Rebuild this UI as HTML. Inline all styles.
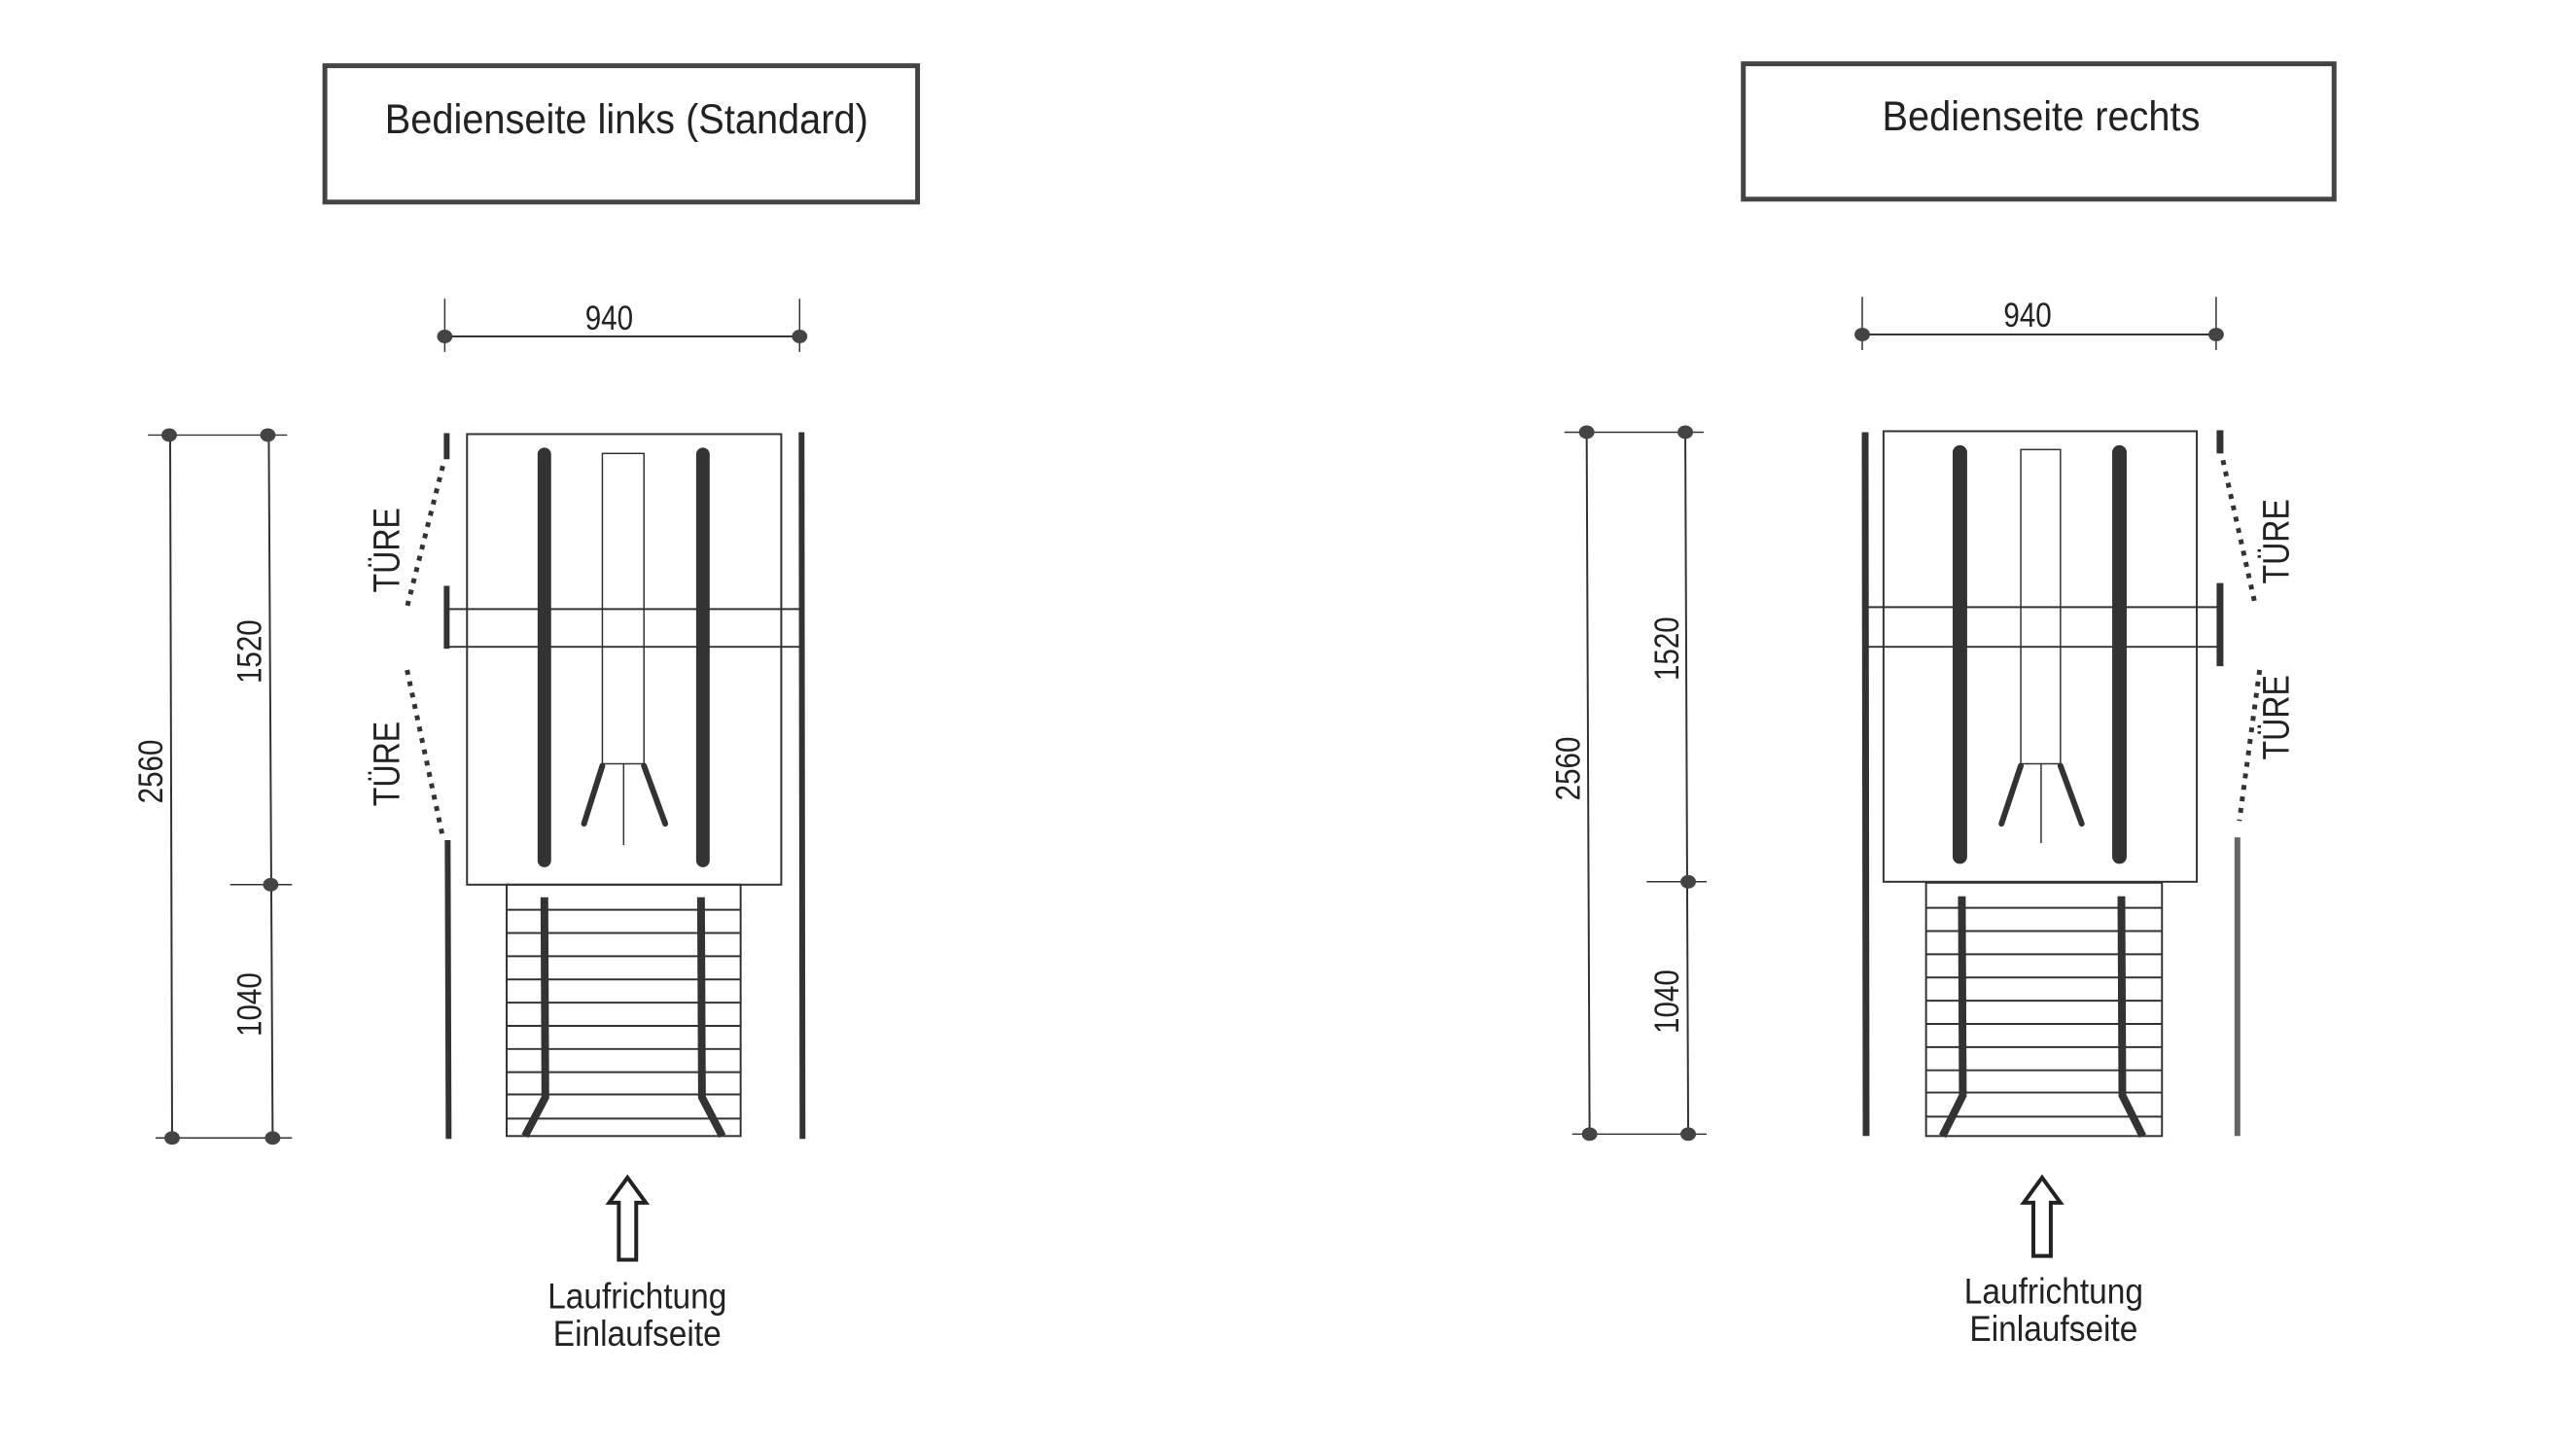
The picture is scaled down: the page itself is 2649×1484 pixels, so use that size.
<!DOCTYPE html>
<html><head><meta charset="utf-8"><style>
html,body{margin:0;padding:0;background:#fff;}
svg{display:block;}
text{font-family:"Liberation Sans",sans-serif;fill:#222;}
</style></head><body>
<svg width="2649" height="1484" viewBox="0 0 2649 1484" xmlns="http://www.w3.org/2000/svg">
<g transform="scale(0.9943)">
<g stroke="#333" fill="none">
<!-- ===== LEFT ===== -->
<rect x="336" y="68" width="613" height="141" stroke-width="5" stroke="#444"/>
<line x1="460" y1="348" x2="827" y2="348" stroke-width="2"/>
<line x1="460" y1="309" x2="460" y2="364" stroke-width="1.5"/>
<line x1="827" y1="309" x2="827" y2="364" stroke-width="1.5"/>
<line x1="176" y1="450" x2="178" y2="1177" stroke-width="2"/>
<line x1="278" y1="450" x2="282" y2="1177" stroke-width="2"/>
<line x1="153" y1="450" x2="297" y2="450" stroke-width="1.5"/>
<line x1="238" y1="915" x2="302" y2="915" stroke-width="1.5"/>
<line x1="161" y1="1177" x2="302" y2="1177" stroke-width="1.5"/>
<line x1="462" y1="448" x2="462" y2="475" stroke-width="6"/>
<line x1="458" y1="482" x2="421" y2="628" stroke-width="5" stroke-dasharray="5 7"/>
<line x1="462" y1="606" x2="462" y2="671" stroke-width="6"/>
<line x1="421" y1="693" x2="458" y2="866" stroke-width="5" stroke-dasharray="5 7"/>
<line x1="463" y1="869" x2="464" y2="1178" stroke-width="6"/>
<rect x="483" y="449" width="325" height="466" stroke-width="2"/>
<line x1="829" y1="447" x2="830" y2="1178" stroke-width="6"/>
<line x1="462" y1="630" x2="828" y2="630" stroke-width="2"/>
<line x1="462" y1="669" x2="828" y2="669" stroke-width="2"/>
<line x1="563" y1="470" x2="563" y2="890" stroke-width="14" stroke-linecap="round"/>
<line x1="727" y1="470" x2="727" y2="890" stroke-width="14" stroke-linecap="round"/>
<rect x="623" y="469" width="43" height="321" stroke-width="1.5"/>
<line x1="623" y1="792" x2="604" y2="852" stroke-width="6" stroke-linecap="round"/>
<line x1="666" y1="792" x2="688" y2="852" stroke-width="6" stroke-linecap="round"/>
<line x1="645" y1="790" x2="645" y2="874" stroke-width="1.5"/>
<rect x="524" y="915" width="242" height="260" stroke-width="2"/>
<g stroke-width="2">
<line x1="524" y1="941" x2="766" y2="941"/><line x1="524" y1="965" x2="766" y2="965"/>
<line x1="524" y1="989" x2="766" y2="989"/><line x1="524" y1="1013" x2="766" y2="1013"/>
<line x1="524" y1="1037" x2="766" y2="1037"/><line x1="524" y1="1061" x2="766" y2="1061"/>
<line x1="524" y1="1085" x2="766" y2="1085"/><line x1="524" y1="1109" x2="766" y2="1109"/>
<line x1="524" y1="1132" x2="766" y2="1132"/><line x1="524" y1="1157" x2="766" y2="1157"/>
</g>
<polyline points="563,928 564,1135 543,1175" stroke-width="8"/>
<polyline points="725,928 726,1135 747,1175" stroke-width="8"/>
<polygon points="649,1218 668,1244 658,1244 658,1303 640,1303 640,1244 630,1244" stroke-width="4" stroke="#222"/>

<!-- ===== RIGHT ===== -->
<rect x="1803" y="66" width="611" height="140" stroke-width="5" stroke="#444"/>
<line x1="1926" y1="346" x2="2292" y2="346" stroke-width="2"/>
<line x1="1926" y1="307" x2="1926" y2="362" stroke-width="1.5"/>
<line x1="2292" y1="307" x2="2292" y2="362" stroke-width="1.5"/>
<line x1="1641" y1="447" x2="1644" y2="1173" stroke-width="2"/>
<line x1="1743" y1="447" x2="1746" y2="1173" stroke-width="2"/>
<line x1="1618" y1="447" x2="1762" y2="447" stroke-width="1.5"/>
<line x1="1703" y1="912" x2="1765" y2="912" stroke-width="1.5"/>
<line x1="1626" y1="1173" x2="1765" y2="1173" stroke-width="1.5"/>
<line x1="1929" y1="447" x2="1930" y2="1175" stroke-width="7"/>
<rect x="1948" y="446" width="324" height="466" stroke-width="2"/>
<line x1="1930" y1="628" x2="2296" y2="628" stroke-width="2"/>
<line x1="1930" y1="669" x2="2296" y2="669" stroke-width="2"/>
<line x1="2296" y1="603" x2="2296" y2="689" stroke-width="7"/>
<line x1="2296" y1="445" x2="2296" y2="469" stroke-width="7"/>
<line x1="2299" y1="476" x2="2333" y2="628" stroke-width="5" stroke-dasharray="5 7"/>
<line x1="2337" y1="693" x2="2316" y2="849" stroke-width="5" stroke-dasharray="5 7"/>
<line x1="2314" y1="866" x2="2314" y2="1175" stroke-width="6" stroke="#666"/>
<line x1="2027" y1="468" x2="2027" y2="886" stroke-width="15" stroke-linecap="round"/>
<line x1="2192" y1="468" x2="2192" y2="886" stroke-width="15" stroke-linecap="round"/>
<rect x="2090" y="465" width="41" height="325" stroke-width="1.5"/>
<line x1="2090" y1="792" x2="2070" y2="852" stroke-width="6" stroke-linecap="round"/>
<line x1="2131" y1="792" x2="2153" y2="852" stroke-width="6" stroke-linecap="round"/>
<line x1="2111" y1="790" x2="2111" y2="872" stroke-width="1.5"/>
<rect x="1992" y="913" width="244" height="262" stroke-width="2"/>
<g stroke-width="2">
<line x1="1992" y1="939" x2="2236" y2="939"/><line x1="1992" y1="963" x2="2236" y2="963"/>
<line x1="1992" y1="987" x2="2236" y2="987"/><line x1="1992" y1="1011" x2="2236" y2="1011"/>
<line x1="1992" y1="1035" x2="2236" y2="1035"/><line x1="1992" y1="1059" x2="2236" y2="1059"/>
<line x1="1992" y1="1083" x2="2236" y2="1083"/><line x1="1992" y1="1107" x2="2236" y2="1107"/>
<line x1="1992" y1="1130" x2="2236" y2="1130"/><line x1="1992" y1="1155" x2="2236" y2="1155"/>
</g>
<polyline points="2029,927 2030,1133 2009,1175" stroke-width="8"/>
<polyline points="2194,927 2195,1133 2216,1175" stroke-width="8"/>
<polygon points="2112,1218 2131,1244 2121,1244 2121,1299 2103,1299 2103,1244 2093,1244" stroke-width="4" stroke="#222"/>
</g>
<g fill="#444">
<ellipse cx="460" cy="348" rx="8" ry="7"/><ellipse cx="827" cy="348" rx="8" ry="7"/>
<ellipse cx="175" cy="450" rx="8" ry="7"/><ellipse cx="277" cy="450" rx="8" ry="7"/>
<ellipse cx="280" cy="915" rx="8" ry="7"/>
<ellipse cx="178" cy="1177" rx="8" ry="7"/><ellipse cx="282" cy="1177" rx="8" ry="7"/>
<ellipse cx="1926" cy="346" rx="8" ry="7"/><ellipse cx="2292" cy="346" rx="8" ry="7"/>
<ellipse cx="1641" cy="447" rx="8" ry="7"/><ellipse cx="1743" cy="447" rx="8" ry="7"/>
<ellipse cx="1746" cy="912" rx="8" ry="7"/>
<ellipse cx="1644" cy="1173" rx="8" ry="7"/><ellipse cx="1746" cy="1173" rx="8" ry="7"/>
</g>
<g font-size="43" text-anchor="middle">
<text transform="translate(648 138) scale(0.93 1)">Bedienseite links (Standard)</text>
<text transform="translate(2111 135) scale(0.93 1)">Bedienseite rechts</text>
</g>
<g font-size="35" text-anchor="middle">
<text transform="translate(630 341) scale(0.85 1)">940</text>
<text transform="translate(2097 338) scale(0.85 1)">940</text>
<text transform="translate(168 798) rotate(-90) scale(0.85 1)">2560</text>
<text transform="translate(270 674) rotate(-90) scale(0.85 1)">1520</text>
<text transform="translate(270 1039) rotate(-90) scale(0.85 1)">1040</text>
<text transform="translate(1634 795) rotate(-90) scale(0.85 1)">2560</text>
<text transform="translate(1736 671) rotate(-90) scale(0.85 1)">1520</text>
<text transform="translate(1736 1036) rotate(-90) scale(0.85 1)">1040</text>
</g>
<g font-size="38" text-anchor="middle">
<text transform="translate(413 569) rotate(-90) scale(0.85 1)">TÜRE</text>
<text transform="translate(413 790) rotate(-90) scale(0.85 1)">TÜRE</text>
<text transform="translate(2367 560) rotate(-90) scale(0.85 1)">TÜRE</text>
<text transform="translate(2367 742) rotate(-90) scale(0.85 1)">TÜRE</text>
</g>
<g font-size="37" text-anchor="middle">
<text transform="translate(659 1353) scale(0.91 1)">Laufrichtung</text>
<text transform="translate(659 1392) scale(0.91 1)">Einlaufseite</text>
<text transform="translate(2124 1348) scale(0.91 1)">Laufrichtung</text>
<text transform="translate(2124 1387) scale(0.91 1)">Einlaufseite</text>
</g>
</g>
</svg>
</body></html>
